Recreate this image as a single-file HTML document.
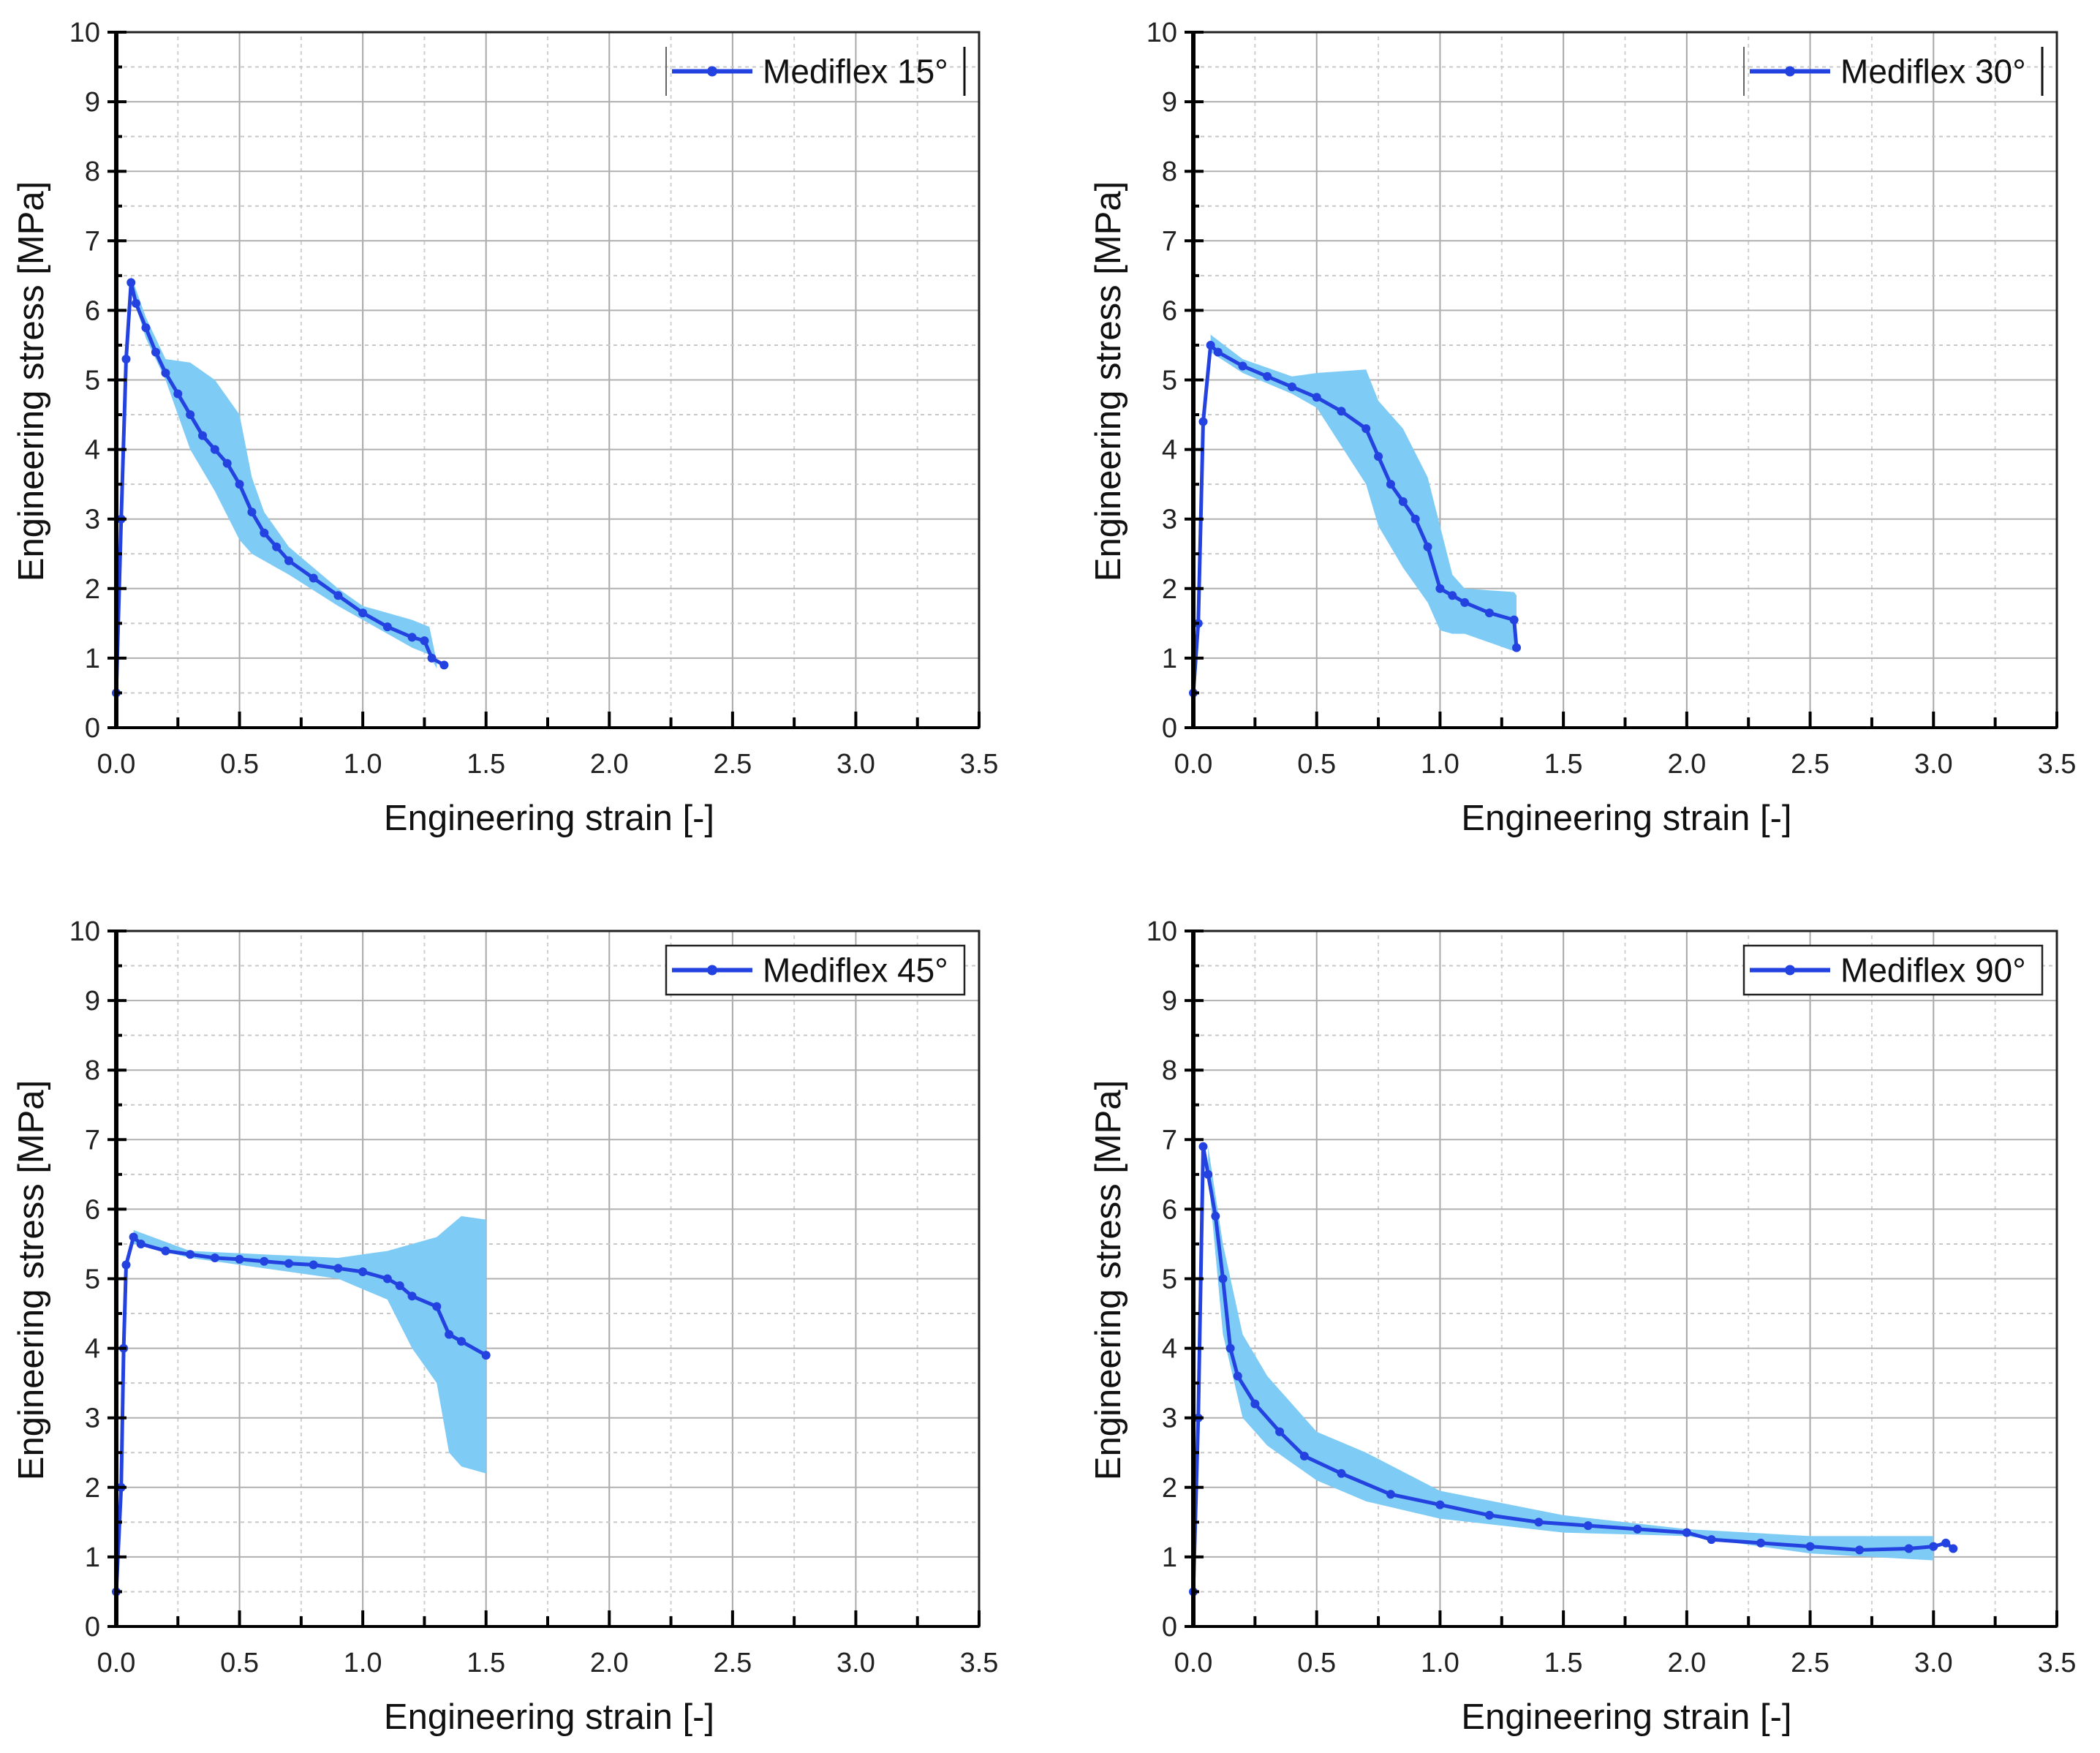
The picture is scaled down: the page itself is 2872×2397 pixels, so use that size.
<!DOCTYPE html>
<html><head><meta charset="utf-8">
<style>
html,body{margin:0;padding:0;background:#fff;}
svg{display:block;font-family:"Liberation Sans",Arial,sans-serif;}
</style></head>
<body>
<svg id="fig" width="2872" height="2397" viewBox="0 0 2872 2397" xmlns="http://www.w3.org/2000/svg"></svg>
<script>
// ---- Data ----
const xTicks = [0,0.5,1.0,1.5,2.0,2.5,3.0,3.5];
const yTicks = [0,1,2,3,4,5,6,7,8,9,10];
const labels = ["Mediflex 15°","Mediflex 30°","Mediflex 45°","Mediflex 90°"];

const s15 = [0,0.02,0.04,0.06,0.08,0.12,0.16,0.2,0.25,0.3,0.35,0.4,0.45,0.5,0.55,0.6,0.65,0.7,0.8,0.9,1.0,1.1,1.2,1.25,1.28,1.33];
const m15 = [0.5,3,5.3,6.4,6.1,5.75,5.4,5.1,4.8,4.5,4.2,4.0,3.8,3.5,3.1,2.8,2.6,2.4,2.15,1.9,1.65,1.45,1.3,1.25,1.0,0.9];
const bs15 = [0.06,0.12,0.2,0.3,0.4,0.5,0.55,0.6,0.7,0.9,1.0,1.2,1.27,1.3];
const bu15 = [6.5,5.9,5.3,5.25,5.0,4.5,3.6,3.1,2.6,2.0,1.75,1.55,1.45,0.95];
const bl15 = [6.3,5.6,5.0,4.0,3.4,2.7,2.5,2.4,2.2,1.75,1.55,1.15,1.05,0.85];

const s30 = [0,0.02,0.04,0.07,0.1,0.2,0.3,0.4,0.5,0.6,0.7,0.75,0.8,0.85,0.9,0.95,1.0,1.05,1.1,1.2,1.3,1.31];
const m30 = [0.5,1.5,4.4,5.5,5.4,5.2,5.05,4.9,4.75,4.55,4.3,3.9,3.5,3.25,3.0,2.6,2.0,1.9,1.8,1.65,1.55,1.15];
const bs30 = [0.07,0.2,0.4,0.5,0.7,0.75,0.85,0.95,1.0,1.05,1.1,1.3,1.31];
const bu30 = [5.65,5.3,5.05,5.1,5.15,4.7,4.3,3.6,2.9,2.2,2.0,1.95,1.9];
const bl30 = [5.4,5.1,4.8,4.6,3.5,2.9,2.3,1.8,1.4,1.35,1.35,1.1,1.1];

const s45 = [0,0.02,0.03,0.04,0.07,0.1,0.2,0.3,0.4,0.5,0.6,0.7,0.8,0.9,1.0,1.1,1.15,1.2,1.3,1.35,1.4,1.5];
const m45 = [0.5,2,4,5.2,5.6,5.5,5.4,5.35,5.3,5.28,5.25,5.22,5.2,5.15,5.1,5.0,4.9,4.75,4.6,4.2,4.1,3.9];
const bs45 = [0.07,0.3,0.6,0.9,1.1,1.2,1.3,1.35,1.4,1.5];
const bu45 = [5.7,5.4,5.35,5.3,5.4,5.5,5.6,5.75,5.9,5.85];
const bl45 = [5.5,5.3,5.15,5.0,4.7,4.0,3.5,2.5,2.3,2.2];

const s90 = [0,0.02,0.04,0.06,0.09,0.12,0.15,0.18,0.25,0.35,0.45,0.6,0.8,1.0,1.2,1.4,1.6,1.8,2.0,2.1,2.3,2.5,2.7,2.9,3.0,3.05,3.08];
const m90 = [0.5,3,6.9,6.5,5.9,5.0,4.0,3.6,3.2,2.8,2.45,2.2,1.9,1.75,1.6,1.5,1.45,1.4,1.35,1.25,1.2,1.15,1.1,1.12,1.15,1.2,1.12];
const bs90 = [0.06,0.12,0.2,0.3,0.5,0.7,1.0,1.5,2.0,2.5,3.0];
const bu90 = [6.9,5.5,4.2,3.6,2.8,2.5,1.95,1.6,1.4,1.3,1.3];
const bl90 = [6.5,4.2,3.0,2.6,2.1,1.8,1.55,1.35,1.3,1.05,0.95];

const panelsData = [[s15,m15,bs15,bu15,bl15],[s30,m30,bs30,bu30,bl30],[s45,m45,bs45,bu45,bl45],[s90,m90,bs90,bu90,bl90]];
// ---- Layout ----
const frames = [{x0:159,x1:1339,y0:995,y1:44,leg:'sides'},{x0:1632,x1:2813,y0:995,y1:44,leg:'sides'},
                {x0:159,x1:1339,y0:2224,y1:1273,leg:'box'},{x0:1632,x1:2813,y0:2224,y1:1273,leg:'box'}];
const NS='http://www.w3.org/2000/svg';
const svg=document.getElementById('fig');
function mk(tag,attrs,parent){const e=document.createElementNS(NS,tag);for(const k in attrs)e.setAttribute(k,attrs[k]);(parent||svg).appendChild(e);return e;}

frames.forEach((f,i)=>{
  const g=mk('g',{});
  
  
  const X=v=>f.x0+(f.x1-f.x0)*v/3.5;
  const Y=v=>f.y0+(f.y1-f.y0)*v/10;
  // grid
  for(let v=0.25;v<3.5;v+=0.25){const major=Math.abs(v*2-Math.round(v*2))<1e-6;
    const l=mk('line',{x1:X(v),x2:X(v),y1:f.y0,y2:f.y1,stroke:major?'#a8a8a8':'#d0d0d0','stroke-width':2,'stroke-dasharray':major?'':'5,5'},g);
    }
  for(let v=0.5;v<10;v+=0.5){const major=Number.isInteger(v);
    const l=mk('line',{x1:f.x0,x2:f.x1,y1:Y(v),y2:Y(v),stroke:major?'#b0b0b0':'#c8c8c8','stroke-width':2,'stroke-dasharray':major?'':'5,5'},g);
    }
  const d=panelsData[i];
  // band
  let p='M'+d[2].map((s,k)=>X(s)+','+Y(d[3][k])).join(' L');
  for(let k=d[2].length-1;k>=0;k--)p+=' L'+X(d[2][k])+','+Y(d[4][k]);
  const band=mk('path',{d:p+'Z',fill:'#7ecbf6',stroke:'none'},g);
  
  // mean line
  const line=mk('polyline',{points:d[0].map((s,k)=>X(s)+','+Y(d[1][k])).join(' '),fill:'none',stroke:'#2342e0','stroke-width':5,'stroke-linejoin':'round'},g);
  
  d[0].forEach((s,k)=>{const c=mk('circle',{cx:X(s),cy:Y(d[1][k]),r:6,fill:'#2342e0'},g);
    });
  // axes frame
  const fr=mk('rect',{x:f.x0,y:f.y1,width:f.x1-f.x0,height:f.y0-f.y1,fill:'none',stroke:'#222','stroke-width':3},g);
  
  mk('line',{x1:f.x0,x2:f.x0,y1:f.y0,y2:f.y1,stroke:'#000','stroke-width':6},g);
  mk('line',{x1:f.x0,x2:f.x1,y1:f.y0,y2:f.y0,stroke:'#000','stroke-width':4},g);
  // ticks
  for(let v=0;v<=3.5+1e-6;v+=0.25){const major=Math.abs(v*2-Math.round(v*2))<1e-6;
    mk('line',{x1:X(v),x2:X(v),y1:f.y0,y2:f.y0-(major?22:14),stroke:'#000','stroke-width':4},g);}
  for(let v=0;v<=10;v+=0.5){const major=Number.isInteger(v);
    mk('line',{x1:f.x0-(major?12:0),x2:f.x0+(major?14:8),y1:Y(v),y2:Y(v),stroke:'#000','stroke-width':4},g);}
  xTicks.forEach(v=>{const t=mk('text',{x:X(v),y:f.y0+62,'font-size':38,'text-anchor':'middle',fill:'#222'},g);t.textContent=v.toFixed(1);
    });
  yTicks.forEach(v=>{const t=mk('text',{x:f.x0-22,y:Y(v)+13,'font-size':38,'text-anchor':'end',fill:'#222'},g);t.textContent=v;
    });
  const xt=mk('text',{x:(f.x0+f.x1)/2+2,y:f.y0+140,'font-size':49,'text-anchor':'middle',fill:'#111'},g);xt.textContent='Engineering strain [-]';
  
  const yc=(f.y0+f.y1)/2+2;
  const yt=mk('text',{x:0,y:0,'font-size':49,'text-anchor':'middle',fill:'#111',transform:`translate(${f.x0-100},${yc}) rotate(-90)`},g);yt.textContent='Engineering stress [MPa]';
  
  // legend
  const lg=mk('g',{},g);
  
  const lx0=f.x1-428, lx1=f.x1-20, ly0=f.y1+20, ly1=f.y1+87;
  if(f.leg==='box'){mk('rect',{x:lx0,y:ly0,width:lx1-lx0,height:ly1-ly0,fill:'#fff',stroke:'#222','stroke-width':2.5},lg);}
  else{mk('line',{x1:lx0,x2:lx0,y1:ly0,y2:ly1,stroke:'#666','stroke-width':2},lg);mk('line',{x1:lx1,x2:lx1,y1:ly0,y2:ly1,stroke:'#111','stroke-width':3},lg);}
  const my=(ly0+ly1)/2;
  mk('line',{x1:lx0+8,x2:lx0+118,y1:my,y2:my,stroke:'#2342e0','stroke-width':6},lg);
  mk('circle',{cx:lx0+63,cy:my,r:7,fill:'#2342e0'},lg);
  const lt=mk('text',{x:lx0+132,y:my+16,'font-size':46,fill:'#111'},lg);lt.textContent=labels[i];
  
});
</script>
</body></html>
